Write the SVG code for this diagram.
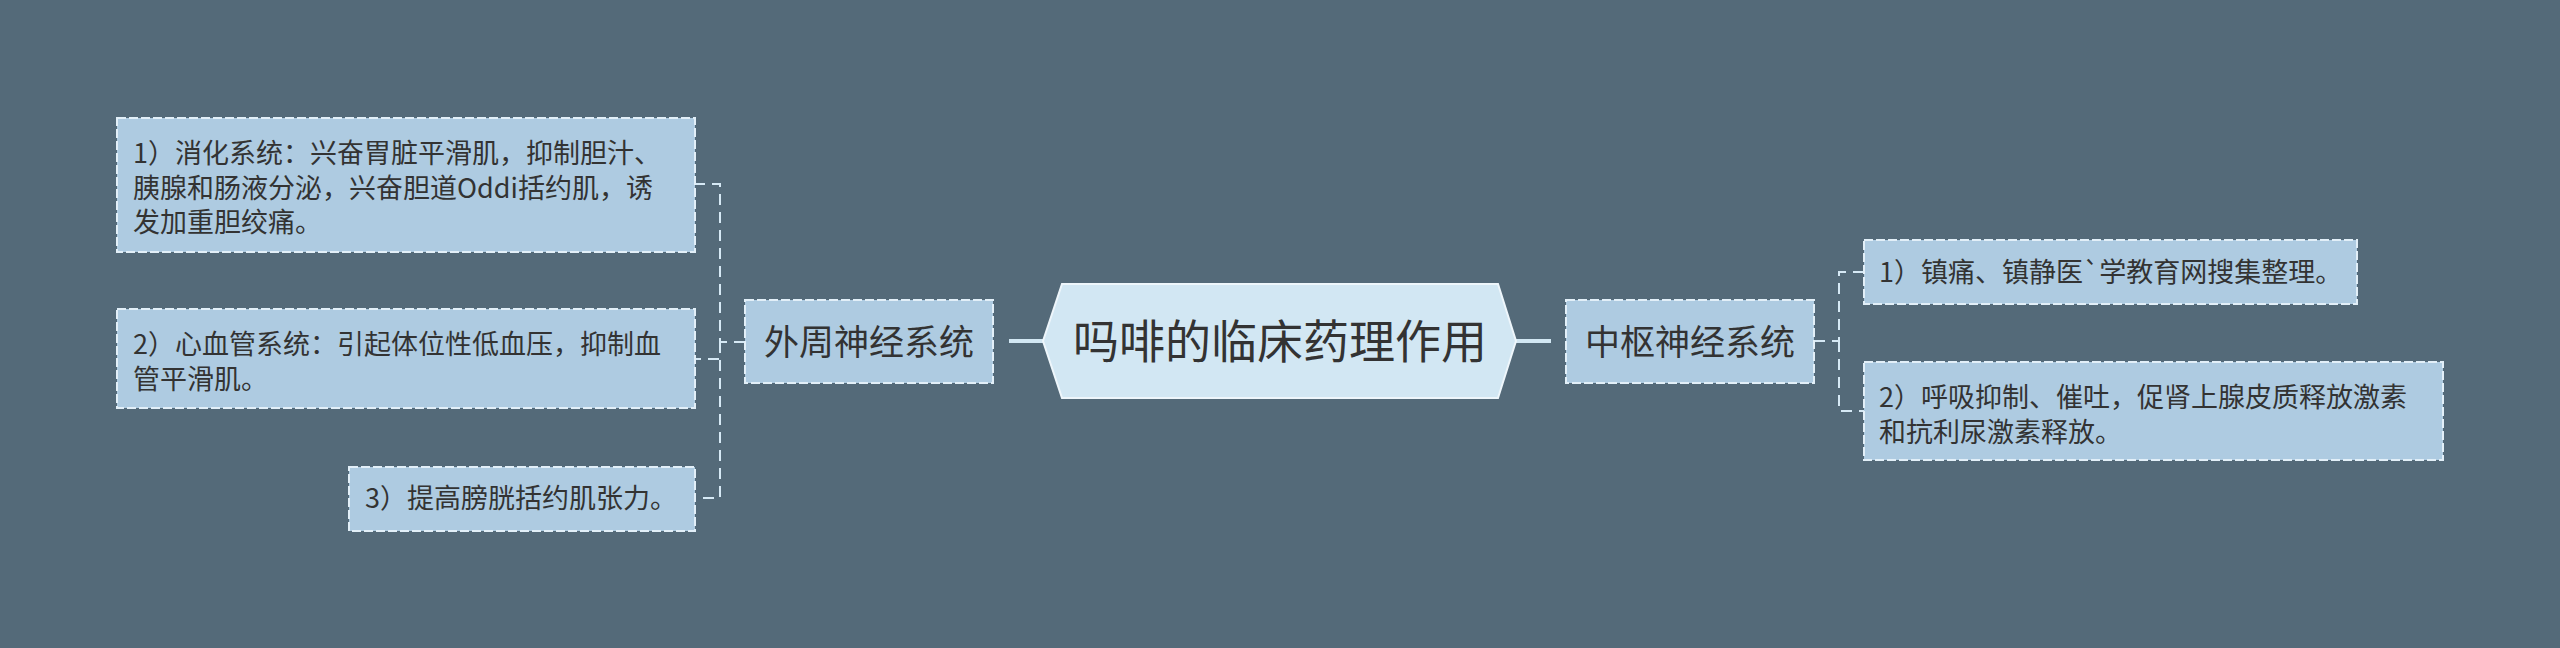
<svg xmlns="http://www.w3.org/2000/svg" width="2560" height="648" viewBox="0 0 2560 648">
<style>
.bg{fill:#546a79}
.box{fill:#aecbe1;stroke:#e2eff8;stroke-width:2;stroke-dasharray:9 3}
.root{fill:#d2e7f3;stroke:#eef6fb;stroke-width:2}
.t{font-family:"Noto Sans CJK SC","Noto Sans",sans-serif;fill:#333333}
.s{font-size:27px}
.m{font-size:35px;text-anchor:middle}
.l{font-size:46px;text-anchor:middle}
.dash{fill:none;stroke:#d6e9f5;stroke-width:2;stroke-dasharray:11 7}
.solid{fill:none;stroke:#d2e7f3;stroke-width:4}
</style>
<rect class="bg" x="0" y="0" width="2560" height="648"/>
<g id="connectors">
<path class="solid" d="M1009,341 H1043"/>
<path class="solid" d="M1516,341 H1551"/>
<path class="dash" d="M745,342 H720 V184 H695"/>
<path class="dash" d="M720,342 V359 H695"/>
<path class="dash" d="M720,342 V498 H695"/>
<path class="dash" d="M1814,341 H1839 V272 H1864"/>
<path class="dash" d="M1839,341 V411 H1864"/>
</g>
<g id="root">
<polygon class="root" points="1043,341 1062,284 1498,284 1516,341 1498,398 1062,398"/>
<text class="t l" x="1280" y="358">吗啡的临床药理作用</text>
</g>
<g id="peripheral">
<rect class="box" x="745" y="300" width="248" height="83"/>
<text class="t m" x="869" y="355">外周神经系统</text>
</g>
<g id="central">
<rect class="box" x="1566" y="300" width="248" height="83"/>
<text class="t m" x="1690" y="355">中枢神经系统</text>
</g>
<g id="p1">
<rect class="box" x="117" y="118" width="578" height="134"/>
<text class="t s" x="133" y="163">1）消化系统：兴奋胃脏平滑肌，抑制胆汁、</text>
<text class="t s" x="133" y="198">胰腺和肠液分泌，兴奋胆道Oddi括约肌，诱</text>
<text class="t s" x="133" y="232">发加重胆绞痛。</text>
</g>
<g id="p2">
<rect class="box" x="117" y="309" width="578" height="99"/>
<text class="t s" x="133" y="354">2）心血管系统：引起体位性低血压，抑制血</text>
<text class="t s" x="133" y="389">管平滑肌。</text>
</g>
<g id="p3">
<rect class="box" x="349" y="467" width="346" height="64"/>
<text class="t s" x="365" y="508">3）提高膀胱括约肌张力。</text>
</g>
<g id="c1">
<rect class="box" x="1864" y="240" width="493" height="64"/>
<text class="t s" x="1879" y="282">1）镇痛、镇静医`学教育网搜集整理。</text>
</g>
<g id="c2">
<rect class="box" x="1864" y="362" width="579" height="98"/>
<text class="t s" x="1879" y="407">2）呼吸抑制、催吐，促肾上腺皮质释放激素</text>
<text class="t s" x="1879" y="442">和抗利尿激素释放。</text>
</g>
</svg>
